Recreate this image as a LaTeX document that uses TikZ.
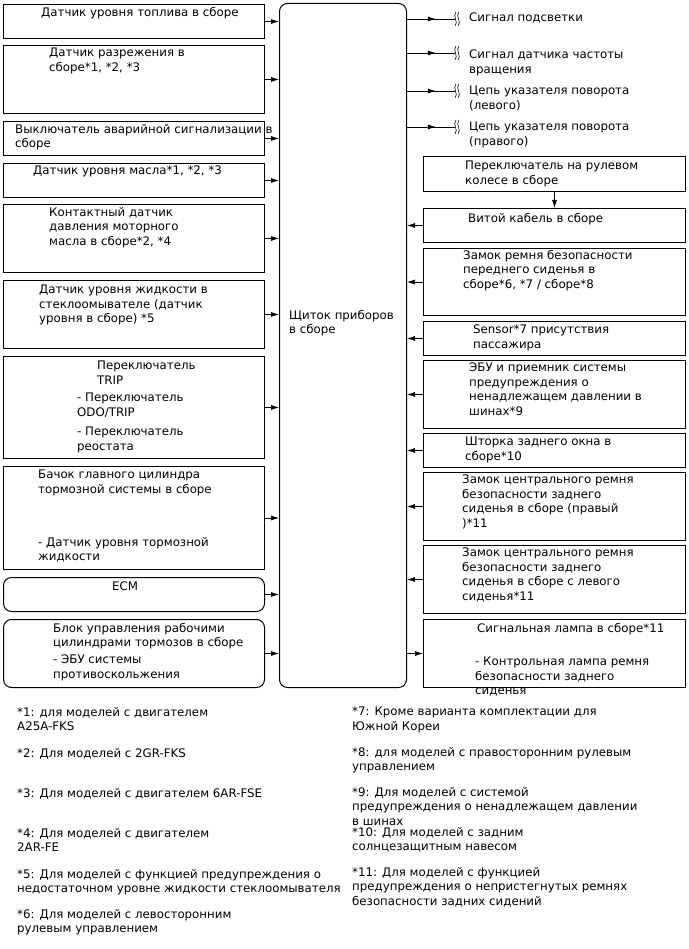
\documentclass[tikz,border=0pt]{standalone}
\usepackage{fontspec}
\setmainfont{DejaVu Sans}
\usetikzlibrary{arrows.meta,decorations.markings}

\begin{document}
\begin{tikzpicture}[x=1pt, y=-1pt,
  every node/.style={font=\fontsize{11.8}{14.5}\selectfont},
  blk/.style={draw, line width=1pt, anchor=north west, inner sep=0pt, minimum width=261pt},
  rblk/.style={blk, minimum width=262pt},
  txt/.style={anchor=north west, inner sep=0pt, align=left},
  arr/.style={-{Latex[length=8pt,width=5pt]}, line width=0.7pt},
  outarr/.style={line width=0.7pt, postaction={decorate},
    decoration={markings, mark=at position 0.6 with {\arrow{Latex[length=8pt,width=5pt]}}}},
  brk/.pic={
    \draw[line width=0.6pt] (1,-7) .. controls (-3,-3) and (4,3) .. (0,7);
    \draw[line width=0.6pt] (4,-7) .. controls (0,-3) and (7,3) .. (3,7);
  },
]
\useasboundingbox (0,0) rectangle (688,949);

% main unit
\node[blk, rounded corners=8pt, minimum width=127pt, minimum height=684pt] (main) at (279,3) {};
\node[txt] (mainT) at (289,310) {Щиток приборов\\в сборе};

% inputs on the left
\node[blk, minimum height=34pt] (fuel) at (3,4) {};
\node[txt] (fuelT) at (41,7) {Датчик уровня топлива в сборе};
\node[blk, minimum height=68pt] (vac) at (3,45) {};
\node[txt] (vacT) at (49,48) {Датчик разрежения в\\сборе*1, *2, *3};
\node[blk, minimum height=34pt] (haz) at (3,121) {};
\node[txt] (hazT) at (15,124) {Выключатель аварийной сигнализации в\\сборе};
\node[blk, minimum height=34pt] (oil) at (3,163) {};
\node[txt] (oilT) at (33,166) {Датчик уровня масла*1, *2, *3};
\node[blk, minimum height=68pt] (ops) at (3,204) {};
\node[txt] (opsT) at (49,207) {Контактный датчик\\давления моторного\\масла в сборе*2, *4};
\node[blk, minimum height=68pt] (wash) at (3,280) {};
\node[txt] (washT) at (39,285) {Датчик уровня жидкости в\\стеклоомывателе (датчик\\уровня в сборе) *5};
\node[blk, minimum height=102pt] (trip) at (3,356) {};
\node[txt] (tripT) at (97,361) {Переключатель\\TRIP};
\node[txt] (tripA) at (77,393) {- Переключатель\\ODO/TRIP};
\node[txt] (tripB) at (77,427) {- Переключатель\\реостата};
\node[blk, minimum height=103pt] (brake) at (3,466) {};
\node[txt] (brakeT) at (38,470) {Бачок главного цилиндра\\тормозной системы в сборе};
\node[txt] (brakeA) at (38,537) {- Датчик уровня тормозной\\жидкости};
\node[blk, rounded corners=8pt, minimum height=34pt] (ecm) at (3,577) {};
\node[txt] (ecmT) at (112,582) {ECM};
\node[blk, rounded corners=8pt, minimum height=68pt] (abs) at (3,619) {};
\node[txt] (absT) at (53,623) {Блок управления рабочими\\цилиндрами тормозов в сборе};
\node[txt] (absA) at (53,655) {- ЭБУ системы\\противоскольжения};

\foreach \b in {fuel,vac,haz,oil,ops,wash,trip,brake,ecm,abs}
  \draw[arr] (\b.east) -- (\b.east -| main.west);

% outputs
\coordinate (o1) at (455,19);
\coordinate (o2) at (455,53);
\coordinate (o3) at (455,91);
\coordinate (o4) at (455,127);
\node[txt] (o1T) at (469,13) {Сигнал подсветки};
\node[txt] (o2T) at (469,50) {Сигнал датчика частоты\\вращения};
\node[txt] (o3T) at (469,86) {Цепь указателя поворота\\(левого)};
\node[txt] (o4T) at (469,122) {Цепь указателя поворота\\(правого)};
\foreach \o in {o1,o2,o3,o4} {
  \draw[outarr] (\o -| main.east) -- (\o);
  \pic at (\o) {brk};
}

% right column
\node[rblk, minimum height=35pt] (swc) at (423,156) {};
\node[txt] (swcT) at (465,161) {Переключатель на рулевом\\колесе в сборе};
\node[rblk, minimum height=34pt] (spiral) at (423,208) {};
\node[txt] (spiralT) at (468,213) {Витой кабель в сборе};
\node[rblk, minimum height=67pt] (buckle) at (423,248) {};
\node[txt] (buckleT) at (463,250) {Замок ремня безопасности\\переднего сиденья в\\сборе*6, *7 / сборе*8};
\node[rblk, minimum height=34pt] (occ) at (423,321) {};
\node[txt] (occT) at (473,325) {Sensor*7 присутствия\\пассажира};
\node[rblk, minimum height=68pt] (tpms) at (423,360) {};
\node[txt] (tpmsT) at (469,363) {ЭБУ и приемник системы\\предупреждения о\\ненадлежащем давлении в\\шинах*9};
\node[rblk, minimum height=34pt] (shade) at (423,433) {};
\node[txt] (shadeT) at (465,437) {Шторка заднего окна в\\сборе*10};
\node[rblk, minimum height=68pt] (rbr) at (423,472) {};
\node[txt] (rbrT) at (462,475) {Замок центрального ремня\\безопасности заднего\\сиденья в сборе (правый\\)*11};
\node[rblk, minimum height=68pt] (rbl) at (423,545) {};
\node[txt] (rblT) at (462,548) {Замок центрального ремня\\безопасности заднего\\сиденья в сборе с левого\\сиденья*11};
\node[rblk, minimum height=68pt] (lamp) at (423,619) {};
\node[txt] (lampT) at (477,623) {Сигнальная лампа в сборе*11};
\node[txt] (lampA) at (475,657) {- Контрольная лампа ремня\\безопасности заднего\\сиденья};

\draw[arr] (swc.south) -- (spiral.north);
\foreach \b in {spiral,buckle,occ,tpms,shade,rbr,rbl}
  \draw[arr] (\b.west) -- (\b.west -| main.east);
\draw[arr] (lamp.west -| main.east) -- (lamp.west);

% notes
\node[txt] (n1) at (17,707) {*1: для моделей с двигателем\\A25A-FKS};
\node[txt] (n2) at (17,748) {*2: Для моделей с 2GR-FKS};
\node[txt] (n3) at (17,788) {*3: Для моделей с двигателем 6AR-FSE};
\node[txt] (n4) at (17,828) {*4: Для моделей с двигателем\\2AR-FE};
\node[txt] (n5) at (17,869) {*5: Для моделей с функцией предупреждения о\\недостаточном уровне жидкости стеклоомывателя};
\node[txt] (n6) at (17,909) {*6: Для моделей с левосторонним\\рулевым управлением};
\node[txt] (n7) at (352,707) {*7: Кроме варианта комплектации для\\Южной Кореи};
\node[txt] (n8) at (352,747) {*8: для моделей с правосторонним рулевым\\управлением};
\node[txt] (n9) at (352,787) {*9: Для моделей с системой\\предупреждения о ненадлежащем давлении\\в шинах};
\node[txt] (n10) at (352,827) {*10: Для моделей с задним\\солнцезащитным навесом};
\node[txt] (n11) at (352,867) {*11: Для моделей с функцией\\предупреждения о непристегнутых ремнях\\безопасности задних сидений};
\end{tikzpicture}
\end{document}
